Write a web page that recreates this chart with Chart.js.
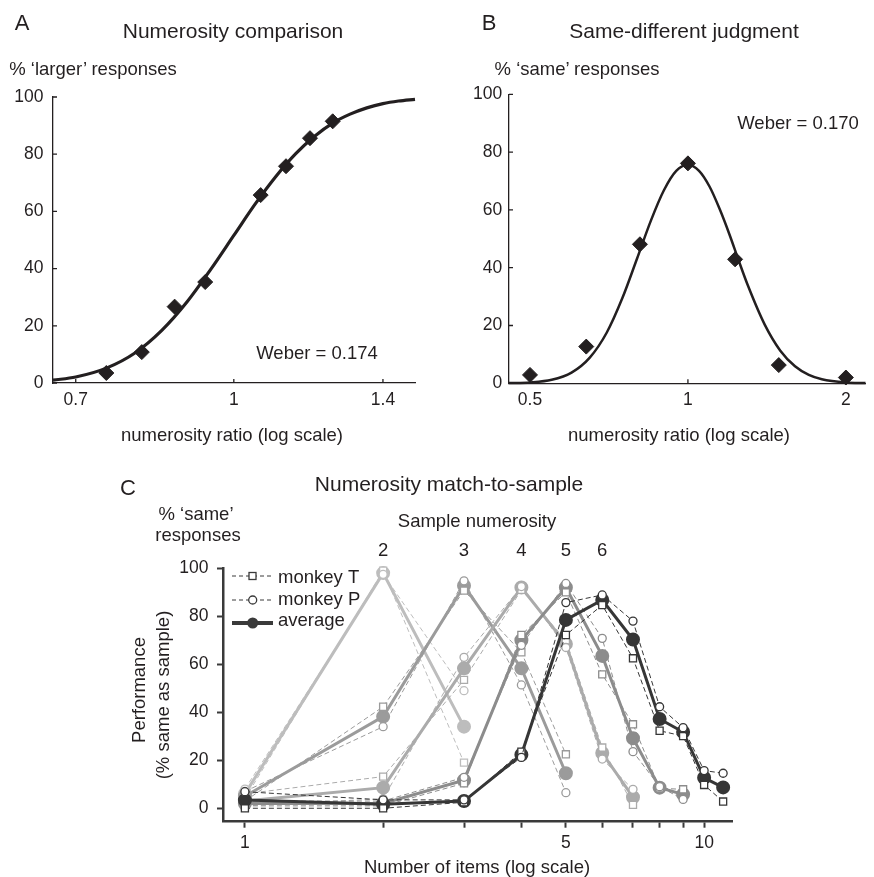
<!DOCTYPE html>
<html>
<head>
<meta charset="utf-8">
<script src="https://cdn.jsdelivr.net/npm/chart.js@4.4.0/dist/chart.umd.min.js"></script>
<style>
  html, body { margin: 0; padding: 0; background: #fff; }
  #fig { position: relative; width: 874px; height: 877px; font-family: "Liberation Sans", Arial, sans-serif; color: #231f20; }
  #fig canvas { position: absolute; }
  .lbl { position: absolute; white-space: nowrap; line-height: 1; transform: translate(-50%, -50%); }
  .rot { transform: translate(-50%, -50%) rotate(-90deg); }
</style>
</head>
<body>
<div id="fig">
  <canvas id="chartA" width="437" height="440" style="left:0;top:0"></canvas>
  <canvas id="chartB" width="437" height="440" style="left:437px;top:0"></canvas>
  <canvas id="chartC" width="874" height="437" style="left:0;top:440px"></canvas>

  <div class="lbl" style="left:22px;top:23px;font-size:22px">A</div>
  <div class="lbl" style="left:233px;top:30px;font-size:21px">Numerosity comparison</div>
  <div class="lbl" style="left:93px;top:69px;font-size:18.5px">% ‘larger’ responses</div>
  <div class="lbl" style="left:317px;top:353px;font-size:18.5px">Weber = 0.174</div>
  <div class="lbl" style="left:232px;top:435px;font-size:18.5px">numerosity ratio (log scale)</div>

  <div class="lbl" style="left:489px;top:23px;font-size:22px">B</div>
  <div class="lbl" style="left:684px;top:30px;font-size:21px">Same-different judgment</div>
  <div class="lbl" style="left:577px;top:69px;font-size:18.5px">% ‘same’ responses</div>
  <div class="lbl" style="left:798px;top:123px;font-size:18.5px">Weber = 0.170</div>
  <div class="lbl" style="left:679px;top:435px;font-size:18.5px">numerosity ratio (log scale)</div>

  <div class="lbl" style="left:128px;top:488px;font-size:22px">C</div>
  <div class="lbl" style="left:449px;top:483px;font-size:21px">Numerosity match-to-sample</div>
  <div class="lbl" style="left:196px;top:514px;font-size:18.5px">% ‘same’</div>
  <div class="lbl" style="left:198px;top:535px;font-size:18.5px">responses</div>
  <div class="lbl" style="left:477px;top:521px;font-size:18.5px">Sample numerosity</div>
  <div class="lbl rot" style="left:139px;top:690px;font-size:18.5px">Performance</div>
  <div class="lbl rot" style="left:163px;top:695px;font-size:18.5px">(% same as sample)</div>
  <div class="lbl" style="left:477px;top:867px;font-size:18.5px">Number of items (log scale)</div>
</div>

<script>
// panel A: numerosity comparison
const ratiosA = [0.75, 0.8125, 0.875, 0.9375, 1.0625, 1.125, 1.1875, 1.25];
const largerA = [3.5, 10.8, 26.7, 35.3, 65.7, 75.8, 85.6, 91.5];
const fitXA = [0.665, 0.7, 0.75, 0.8, 0.85, 0.9, 0.95, 1.0, 1.05, 1.1, 1.15, 1.2, 1.25, 1.3, 1.35, 1.4, 1.45, 1.505];
const fitYA = [1.0, 2.1, 5.2, 10.5, 18.4, 28.4, 39.9, 51.6, 62.7, 72.3, 80.2, 86.3, 90.9, 94.0, 96.2, 97.7, 98.6, 99.2];
const xTicksA = [0.7, 1, 1.4];

// panel B: same-different judgment
const ratiosB = [0.5, 0.64, 0.81, 1, 1.23, 1.49, 2];
const sameB = [2.9, 12.7, 48.1, 76.1, 42.9, 6.3, 2.0];
const fitXB = [0.456, 0.5, 0.55, 0.6, 0.65, 0.7, 0.75, 0.8, 0.85, 0.9, 0.95, 1.0, 1.05, 1.1, 1.15, 1.2, 1.25, 1.3, 1.4, 1.5, 1.6, 1.7, 1.8, 2.0, 2.18];
const fitYB = [0.1, 0.3, 1.2, 3.7, 8.9, 17.5, 29.5, 43.2, 56.3, 66.8, 73.5, 75.5, 73.5, 68, 60.2, 51.5, 42.4, 34, 20.4, 11.3, 5.9, 2.9, 1.4, 0.3, 0.1];
const xTicksB = [0.5, 1, 2];

const yTicksPct = [0, 20, 40, 60, 80, 100];

// panel C: match-to-sample, one block per sample numerosity
const sampleNums = [2, 3, 4, 5, 6];

const tests2 = [1, 2, 3];
const monkeyT2 = [4, 99, 19];
const monkeyP2 = [8, 97.5, 49];
const average2 = [6, 98, 34];

const tests3 = [1, 2, 3, 4, 5];
const monkeyT3 = [3, 42.3, 90.7, 65, 22.5];
const monkeyP3 = [7, 34, 94.8, 51.4, 6.5];
const average3 = [5, 38.2, 92.7, 58.3, 14.6];

const tests4 = [1, 2, 3, 4, 5, 6, 7];
const monkeyT4 = [6, 13.2, 53.5, 91, 70, 25.3, 1.4];
const monkeyP4 = [1, 4, 62.9, 92.4, 67, 20.5, 7.9];
const average4 = [3, 8.6, 58.3, 92, 68.5, 23, 4.6];

const tests5 = [1, 2, 3, 4, 5, 6, 7, 8, 9];
const monkeyT5 = [1, 1, 10.4, 72.2, 90, 55.8, 35, 8.3, 7.9];
const monkeyP5 = [3, 3, 12.9, 67.9, 93.7, 70.8, 23.6, 9, 3.7];
const average5 = [2, 2, 11.7, 70, 92, 63.5, 29.2, 8.6, 5.8];

const tests6 = [1, 2, 3, 4, 5, 6, 7, 8, 9, 10, 11];
const monkeyT6 = [0, 0, 2.5, 23.6, 72.2, 84.7, 62.5, 32.3, 30.1, 9.7, 2.8];
const monkeyP6 = [6.9, 3.5, 3.5, 21.2, 85.7, 88.9, 78, 42.3, 33.6, 15.7, 14.6];
const average6 = [3.4, 1.7, 3, 22.3, 78.5, 86.8, 70.3, 37.2, 31.8, 12.7, 8.7];

const xTicksC = [1, 2, 3, 4, 5, 6, 7, 8, 9, 10];
const xLabelsC = [1, 5, 10];
const legendC = ['monkey T', 'monkey P', 'average'];

const ink = '#231f20';
const axisC = '#3a3a3a';
const shadesC = ['#bdbdbd', '#9b9b9b', '#ababab', '#8c8c8c', '#363636'];
const fontFamily = '"Liberation Sans", Arial, sans-serif';
Chart.defaults.font.family = fontFamily;
Chart.defaults.color = ink;

const toPoints = (xs, ys) => xs.map((x, i) => ({ x: x, y: ys[i] }));

// A and B have short ticks pointing into the plot
const inwardTicks = {
    id: 'inwardTicks',
    afterDraw(chart) {
        const { ctx, chartArea, scales } = chart;
        ctx.save();
        ctx.strokeStyle = ink;
        ctx.lineWidth = 1.3;
        ctx.beginPath();
        scales.x.ticks.forEach(t => {
            const px = scales.x.getPixelForValue(t.value);
            ctx.moveTo(px, chartArea.bottom);
            ctx.lineTo(px, chartArea.bottom - 4);
        });
        scales.y.ticks.forEach(t => {
            const py = scales.y.getPixelForValue(t.value);
            ctx.moveTo(chartArea.left, py);
            ctx.lineTo(chartArea.left + 4, py);
        });
        ctx.stroke();
        ctx.restore();
    }
};

function ratioChart(id, cfg) {
    return new Chart(document.getElementById(id), {
        type: 'line',
        data: {
            datasets: [
                {
                    data: toPoints(cfg.fitX, cfg.fitY),
                    borderColor: ink,
                    borderWidth: cfg.lineWidth,
                    pointRadius: 0,
                    cubicInterpolationMode: 'monotone',
                    clip: false,
                    order: 1
                },
                {
                    data: toPoints(cfg.ratios, cfg.values),
                    showLine: false,
                    pointStyle: 'rectRot',
                    pointRadius: 7.5,
                    pointBackgroundColor: ink,
                    pointBorderColor: ink,
                    clip: false,
                    order: 0
                }
            ]
        },
        options: {
            responsive: false,
            animation: false,
            layout: { padding: cfg.padding },
            plugins: { legend: { display: false }, tooltip: { enabled: false } },
            scales: {
                x: {
                    type: 'logarithmic',
                    min: cfg.xMin,
                    max: cfg.xMax,
                    bounds: 'data',
                    afterBuildTicks: s => { s.ticks = cfg.xTicks.map(v => ({ value: v })); },
                    afterFit: s => { s.height = 40; },
                    ticks: { callback: v => String(v), padding: 6.5, autoSkip: false, maxRotation: 0, color: ink, font: { size: 17.5 } },
                    grid: { drawOnChartArea: false, drawTicks: false },
                    border: { color: ink, width: 1.3 }
                },
                y: {
                    min: 0,
                    max: 100,
                    bounds: 'data',
                    afterBuildTicks: s => { s.ticks = yTicksPct.map(v => ({ value: v })); },
                    afterFit: s => { s.width = cfg.yWidth; },
                    ticks: { callback: v => String(v), padding: cfg.yPad, color: ink, font: { size: 17.5 } },
                    grid: { drawOnChartArea: false, drawTicks: false },
                    border: { color: ink, width: 1.3 }
                }
            }
        },
        plugins: [inwardTicks]
    });
}

ratioChart('chartA', {
    ratios: ratiosA, values: largerA, fitX: fitXA, fitY: fitYA, xTicks: xTicksA,
    xMin: 0.665, xMax: 1.505, lineWidth: 3.2,
    yWidth: 53, yPad: 9.5,
    padding: { left: 0, top: 97, right: 22, bottom: 17 }
});

ratioChart('chartB', {
    ratios: ratiosB, values: sameB, fitX: fitXB, fitY: fitYB, xTicks: xTicksB,
    xMin: 0.456, xMax: 2.18, lineWidth: 2.5,
    yWidth: 72, yPad: 6.7,
    padding: { left: 0, top: 94.3, right: 0, bottom: 16.7 }
});

// panel C
const layersC = [
    { tests: tests2, t: monkeyT2, p: monkeyP2, avg: average2 },
    { tests: tests3, t: monkeyT3, p: monkeyP3, avg: average3 },
    { tests: tests4, t: monkeyT4, p: monkeyP4, avg: average4 },
    { tests: tests5, t: monkeyT5, p: monkeyP5, avg: average5 },
    { tests: tests6, t: monkeyT6, p: monkeyP6, avg: average6 }
];

const datasetsC = [];
layersC.forEach((layer, k) => {
    const col = shadesC[k];
    const base = (layersC.length - 1 - k) * 3;
    datasetsC.push({
        label: 'average',
        data: toPoints(layer.tests, layer.avg),
        borderColor: col,
        backgroundColor: col,
        borderWidth: 3,
        pointStyle: 'circle',
        pointRadius: 5.5,
        pointBackgroundColor: col,
        pointBorderColor: col,
        clip: false,
        order: base + 2
    });
    datasetsC.push({
        label: 'monkey T',
        data: toPoints(layer.tests, layer.t),
        borderColor: col,
        borderWidth: 1,
        borderDash: [5, 3],
        pointStyle: 'rect',
        pointRadius: 5,
        pointBorderWidth: 1.3,
        pointBackgroundColor: '#fff',
        pointBorderColor: col,
        clip: false,
        order: base + 1
    });
    datasetsC.push({
        label: 'monkey P',
        data: toPoints(layer.tests, layer.p),
        borderColor: col,
        borderWidth: 1,
        borderDash: [5, 3],
        pointStyle: 'circle',
        pointRadius: 4,
        pointBorderWidth: 1.3,
        pointBackgroundColor: '#fff',
        pointBorderColor: col,
        clip: false,
        order: base
    });
});

// legend and the sample numerosity labels above the peaks
const overlayC = {
    id: 'overlayC',
    afterDraw(chart) {
        const { ctx } = chart;
        const xs = chart.scales.x;
        ctx.save();
        ctx.font = '18.5px ' + fontFamily;
        ctx.fillStyle = ink;
        ctx.textAlign = 'center';
        ctx.textBaseline = 'middle';
        sampleNums.forEach(n => ctx.fillText(String(n), xs.getPixelForValue(n), 111));

        const rows = [136, 160, 183];
        const textY = [138, 159.5, 180.5];
        ctx.strokeStyle = axisC;
        // monkey T / monkey P
        ctx.lineWidth = 1;
        ctx.setLineDash([4, 3]);
        ctx.beginPath();
        ctx.moveTo(232, rows[0]); ctx.lineTo(273, rows[0]);
        ctx.moveTo(232, rows[1]); ctx.lineTo(273, rows[1]);
        ctx.stroke();
        ctx.setLineDash([]);
        ctx.lineWidth = 1.3;
        ctx.fillStyle = '#fff';
        ctx.fillRect(249, rows[0] - 3.5, 7, 7);
        ctx.strokeRect(249, rows[0] - 3.5, 7, 7);
        ctx.beginPath();
        ctx.arc(252.7, rows[1], 4, 0, Math.PI * 2);
        ctx.fill();
        ctx.stroke();
        // average
        ctx.lineWidth = 4;
        ctx.beginPath();
        ctx.moveTo(232, rows[2]); ctx.lineTo(273, rows[2]);
        ctx.stroke();
        ctx.fillStyle = axisC;
        ctx.beginPath();
        ctx.arc(252.7, rows[2], 5.5, 0, Math.PI * 2);
        ctx.fill();

        ctx.fillStyle = ink;
        ctx.textAlign = 'left';
        legendC.forEach((txt, i) => ctx.fillText(txt, 278, textY[i]));
        ctx.restore();
    }
};

new Chart(document.getElementById('chartC'), {
    type: 'line',
    data: { datasets: datasetsC },
    options: {
        responsive: false,
        animation: false,
        layout: { padding: { left: 0, top: 128.3, right: 142, bottom: 15.3 } },
        plugins: { legend: { display: false }, tooltip: { enabled: false } },
        scales: {
            x: {
                type: 'logarithmic',
                min: 0.896,
                max: 11.5,
                bounds: 'data',
                afterBuildTicks: s => { s.ticks = xTicksC.map(v => ({ value: v })); },
                afterFit: s => { s.height = 40; },
                ticks: {
                    callback: v => (xLabelsC.includes(v) ? String(v) : ''),
                    padding: 5, autoSkip: false, maxRotation: 0, color: ink, font: { size: 17.5 }
                },
                grid: { drawOnChartArea: false, drawTicks: true, tickLength: 6, tickWidth: 2, tickColor: axisC },
                border: { color: axisC, width: 2.5 }
            },
            y: {
                min: -5.6,
                max: 100,
                bounds: 'data',
                afterBuildTicks: s => { s.ticks = yTicksPct.map(v => ({ value: v })); },
                afterFit: s => { s.width = 223; },
                ticks: { callback: v => String(v), padding: 8.5, color: ink, font: { size: 17.5 } },
                grid: { drawOnChartArea: false, drawTicks: true, tickLength: 6, tickWidth: 2, tickColor: axisC },
                border: { color: axisC, width: 2.5 }
            }
        }
    },
    plugins: [overlayC]
});
</script>
</body>
</html>
